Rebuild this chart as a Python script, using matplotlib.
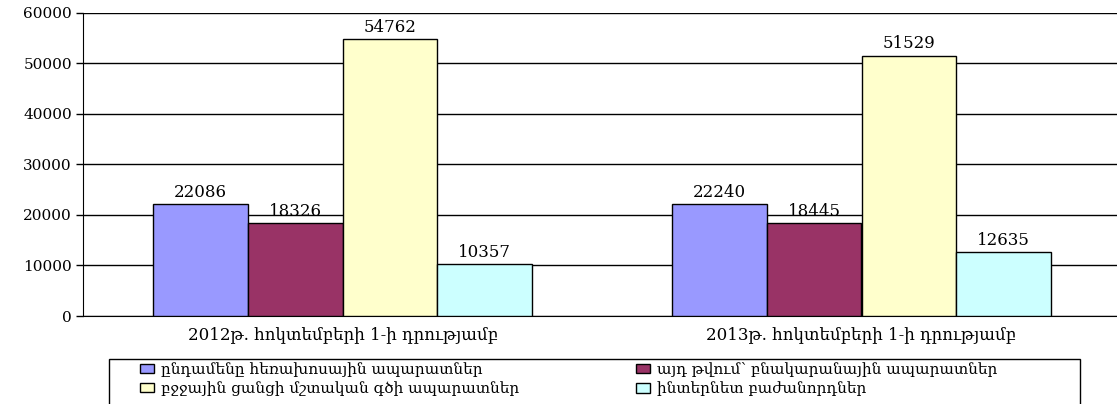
import matplotlib
matplotlib.use("Agg")
import matplotlib.pyplot as plt
from matplotlib.patches import Rectangle, Patch
import numpy as np

categories = ["2012թ. հոկտեմբերի 1-ի դրությամբ", "2013թ. հոկտեմբերի 1-ի դրությամբ"]
series_names = [
    "ընդամենը հեռախոսային ապարատներ",
    "այդ թվում՝ բնակարանային ապարատներ",
    "բջջային ցանցի մշտական գծի ապարատներ",
    "ինտերնետ բաժանորդներ",
]
values = [
    [22086, 22240],
    [18326, 18445],
    [54762, 51529],
    [10357, 12635],
]
colors = ["#9999FF", "#993366", "#FFFFCC", "#CCFFFF"]
yticks = [0, 10000, 20000, 30000, 40000, 50000, 60000]

plt.rcParams["font.family"] = ["DejaVu Serif"]

W, H = 1117, 404
fig = plt.figure(figsize=(W / 100, H / 100), dpi=100)
ax = fig.add_axes([83 / W, (H - 316) / H, (1121 - 83) / W, (316 - 12.7) / H])

x = np.arange(len(categories))
bw = 0.1827
for i, (vals, c) in enumerate(zip(values, colors)):
    pos = x + (i - 1.5) * bw
    bars = ax.bar(pos, vals, width=bw, color=c, edgecolor="black", linewidth=1, zorder=3)
    for b, v in zip(bars, vals):
        ax.text(b.get_x() + b.get_width() / 2, v + 600, str(v), ha="center", va="bottom",
                fontsize=12, zorder=4)

ax.set_xlim(-0.5, 1.5)
ax.set_ylim(0, 60000)
ax.set_yticks(yticks)
ax.set_yticklabels([str(t) for t in yticks], fontsize=11)
ax.set_xticks(x)
ax.set_xticklabels(categories, fontsize=12)
ax.tick_params(axis="x", length=0, pad=7)
ax.tick_params(axis="y", length=5, width=1, color="black", direction="out", pad=3)
ax.grid(axis="y", color="black", linewidth=1, zorder=0)
ax.set_axisbelow(True)
for s in ["top", "right"]:
    ax.spines[s].set_visible(False)
ax.spines["left"].set_color("black")
ax.spines["bottom"].set_color("black")

# legend frame (its bottom lies below the image edge, as in the reference)
fig.patches.append(Rectangle((109 / W, -10 / H), (1080 - 109) / W, (H - 359 + 10) / H,
                             transform=fig.transFigure, fill=False, edgecolor="black", linewidth=1))

handles = [Patch(facecolor=c, edgecolor="black", linewidth=1) for c in colors]
leg_kw = dict(frameon=False, fontsize=11, handlelength=0.9, handleheight=0.55,
              handletextpad=0.45, labelspacing=0.3, borderpad=0, borderaxespad=0)
fig.legend([handles[0], handles[2]], [series_names[0], series_names[2]],
           loc="upper left", bbox_to_anchor=(140 / W, (H - 362) / H), **leg_kw)
fig.legend([handles[1], handles[3]], [series_names[1], series_names[3]],
           loc="upper left", bbox_to_anchor=(636 / W, (H - 362) / H), **leg_kw)

fig.savefig("out.png", dpi=100)
